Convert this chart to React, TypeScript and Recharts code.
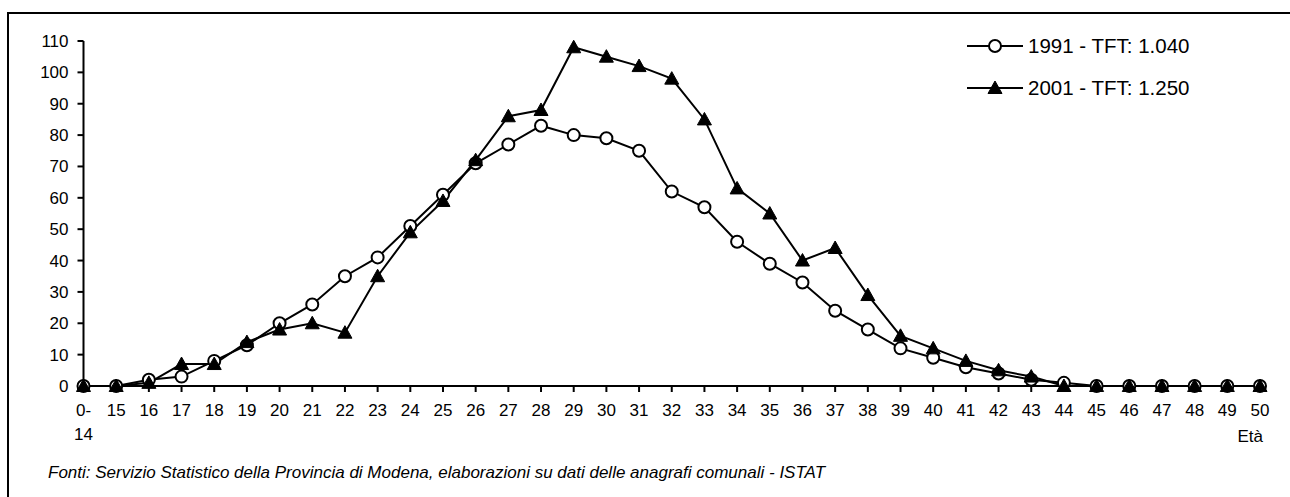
import React from 'react';
import { LineChart, Line, XAxis, YAxis, Legend, Label } from 'recharts';

const categories = ['0-14','15','16','17','18','19','20','21','22','23','24','25','26','27','28','29','30','31','32','33','34','35','36','37','38','39','40','41','42','43','44','45','46','47','48','49','50'];
const series1991 = [0,0,2,3,8,13,20,26,35,41,51,61,71,77,83,80,79,75,62,57,46,39,33,24,18,12,9,6,4,2,1,0,0,0,0,0,0];
const series2001 = [0,0,1,7,7,14,18,20,17,35,49,59,72,86,88,108,105,102,98,85,63,55,40,44,29,16,12,8,5,3,0,0,0,0,0,0,0];
const yTicks = [0,10,20,30,40,50,60,70,80,90,100,110];
const label1991 = '1991 - TFT: 1.040';
const label2001 = '2001 - TFT: 1.250';
const xAxisTitle = 'Età';
const footnote = 'Fonti: Servizio Statistico della Provincia di Modena, elaborazioni su dati delle anagrafi comunali - ISTAT';

const data = categories.map((c, i) => ({ age: c, y1991: series1991[i], y2001: series2001[i] }));

const FONT = '"Liberation Sans", Arial, sans-serif';

const Triangle = (props: any) => {
  const { cx, cy, index } = props;
  if (cx == null || cy == null) return null;
  return (
    <polygon
      key={`t-${index}`}
      points={`${cx},${cy - 7} ${cx + 7},${cy + 5.5} ${cx - 7},${cy + 5.5}`}
      fill="#000"
      stroke="#000"
      strokeWidth={1}
    />
  );
};

const XTick = (props: any) => {
  const { x, y, payload } = props;
  const v: string = String(payload.value);
  const dash = v.indexOf('-');
  const lines = dash >= 0 ? [v.slice(0, dash + 1), v.slice(dash + 1)] : [v];
  return (
    <g>
      {lines.map((l, i) => (
        <text key={i} x={x} y={y + 22 + i * 24} textAnchor="middle" fontSize={17} fontFamily={FONT} fill="#000">
          {l}
        </text>
      ))}
    </g>
  );
};

const LegendContent = () => {
  const rows = [
    { label: label1991, kind: 'circle' },
    { label: label2001, kind: 'triangle' },
  ];
  return (
    <div style={{ fontFamily: FONT, fontSize: 20.5, color: '#000' }}>
      {rows.map((r) => (
        <div key={r.label} style={{ display: 'flex', alignItems: 'center', height: 42 }}>
          <svg width={56} height={20} style={{ display: 'block' }}>
            <line x1={0} y1={10} x2={56} y2={10} stroke="#000" strokeWidth={2} />
            {r.kind === 'circle' ? (
              <circle cx={28} cy={10} r={6} fill="#fff" stroke="#000" strokeWidth={2} />
            ) : (
              <polygon points="28,3 35,15.5 21,15.5" fill="#000" stroke="#000" strokeWidth={1} />
            )}
          </svg>
          <span style={{ marginLeft: 5, whiteSpace: 'nowrap' }}>{r.label}</span>
        </div>
      ))}
    </div>
  );
};

export default function App() {
  return (
    <div style={{ position: 'absolute', left: 0, top: 0, width: 1290, height: 497, overflow: 'hidden', background: '#fff' }}>
      <div style={{ position: 'absolute', left: 7, top: 12, width: 1300, height: 520, border: '2px solid #000', boxSizing: 'border-box' }} />
      <div style={{ position: 'absolute', left: 0, top: 0 }}>
        <LineChart width={1290} height={497} data={data} margin={{ top: 41, right: 30, bottom: 51, left: 0 }}>
          <XAxis
            dataKey="age"
            scale="point"
            padding={{ left: 0, right: 0 }}
            interval={0}
            tickSize={6}
            tickMargin={2}
            tick={<XTick />}
            axisLine={{ stroke: '#000', strokeWidth: 2 }}
            tickLine={{ stroke: '#000', strokeWidth: 2 }}
            height={60}
          >
            <Label
              content={(p: any) => {
                const vb = p.viewBox;
                return (
                  <text x={vb.x + vb.width + 3} y={vb.y + 56} textAnchor="end" fontSize={17} fontFamily={FONT} fill="#000">
                    {xAxisTitle}
                  </text>
                );
              }}
            />
          </XAxis>
          <YAxis
            domain={[0, 110]}
            ticks={yTicks}
            interval={0}
            width={83.5}
            tickSize={6}
            tickMargin={9}
            tick={{ fontSize: 17, fontFamily: FONT, fill: '#000' }}
            axisLine={{ stroke: '#000', strokeWidth: 2 }}
            tickLine={{ stroke: '#000', strokeWidth: 2 }}
          />
          <Legend
            layout="vertical"
            align="center"
            verticalAlign="middle"
            wrapperStyle={{ left: 967, top: 25, width: 'auto', height: 'auto' }}
            content={<LegendContent />}
          />
          <Line
            type="linear"
            dataKey="y1991"
            name={label1991}
            stroke="#000"
            strokeWidth={2}
            dot={{ r: 6, fill: '#fff', stroke: '#000', strokeWidth: 2 }}
            isAnimationActive={false}
          />
          <Line
            type="linear"
            dataKey="y2001"
            name={label2001}
            stroke="#000"
            strokeWidth={2}
            dot={<Triangle />}
            isAnimationActive={false}
          />
        </LineChart>
      </div>
      <div style={{ position: 'absolute', left: 48, top: 463.5, fontFamily: FONT, fontSize: 17, lineHeight: '17px', fontStyle: 'italic', color: '#000', whiteSpace: 'nowrap' }}>
        {footnote}
      </div>
    </div>
  );
}
